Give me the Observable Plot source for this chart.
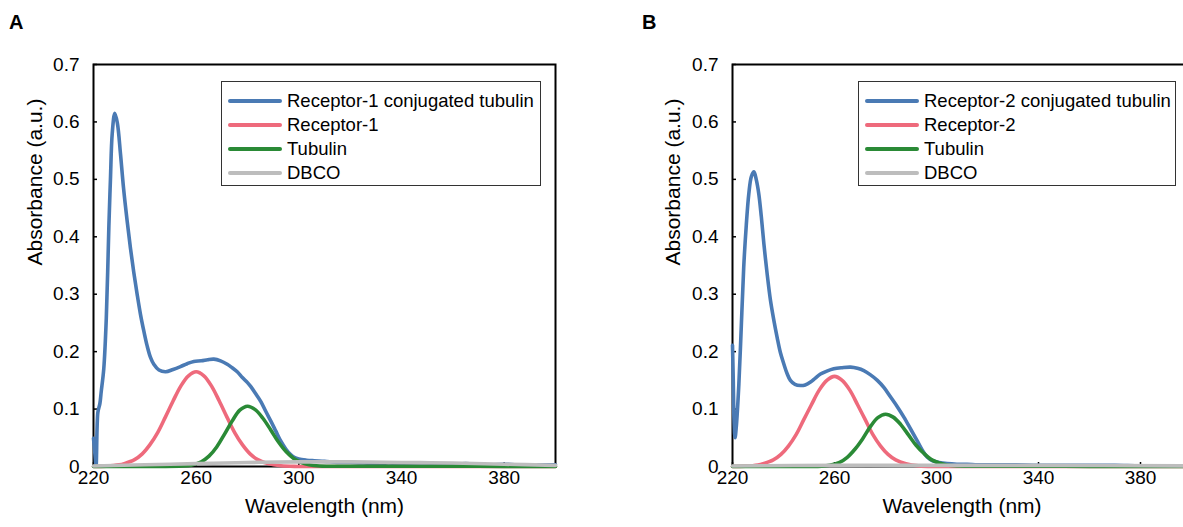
<!DOCTYPE html>
<html>
<head>
<meta charset="utf-8">
<script src="https://cdn.jsdelivr.net/npm/d3@7"></script>
<script src="https://cdn.jsdelivr.net/npm/@observablehq/plot@0.6"></script>
<style>
  html, body { margin: 0; padding: 0; background: #fff; overflow: hidden; }
  #root { position: relative; width: 1183px; height: 527px; overflow: hidden; font-family: "Liberation Sans", Arial, Helvetica, sans-serif; color: #000; }
  .panel { position: absolute; top: 0; }
  .letter { position: absolute; top: 12px; font-weight: bold; font-size: 20px; line-height: 20px; }
  .legend { position: absolute; border: 1.5px solid #333; background: #fff; box-sizing: border-box; }
  .legend .row { position: absolute; left: 0; height: 24px; display: flex; align-items: center; font-size: 18.5px; white-space: nowrap; }
  .legend .sw { display: inline-block; width: 54px; height: 4px; border-radius: 2px; margin-left: 6px; margin-right: 5px; }
</style>
</head>
<body>
<div id="root"></div>
<script>
// ---------- data ----------
const xTicks = [220, 260, 300, 340, 380];
const yTicks = [0, 0.1, 0.2, 0.3, 0.4, 0.5, 0.6, 0.7];
const seriesColors = ["#4a7ab4", "#ee6a7c", "#2a8a36", "#bdbdbd"];
const legendA = ["Receptor-1 conjugated tubulin", "Receptor-1", "Tubulin", "DBCO"];
const legendB = ["Receptor-2 conjugated tubulin", "Receptor-2", "Tubulin", "DBCO"];

// Panel A
const blueA_wl  = [220,220.6,221,221.7,222.5,223,224,225,226,226.6,227.3,228.3,229.3,230.5,231.7,233.1,234.4,235.7,237,238.3,239.6,240.9,242.2,243.5,245.5,248.1,251,253.9,256.5,259.1,262,264.5,266.9,269.5,272.1,274,276,278,280,281.3,283,285.2,287,289.1,291,293,295,296.5,298.2,300,303,306,310,315,320,325,330,335,340,345,350,355,360,365,370,375,380,385,390,395,400];
const blueA_abs = [0.049,0.02,0.002,0.094,0.110,0.13,0.17,0.26,0.42,0.50,0.58,0.615,0.598,0.545,0.485,0.428,0.380,0.338,0.300,0.265,0.236,0.210,0.190,0.178,0.168,0.165,0.169,0.174,0.179,0.183,0.184,0.186,0.187,0.184,0.178,0.172,0.165,0.155,0.146,0.139,0.128,0.113,0.097,0.079,0.062,0.044,0.030,0.022,0.016,0.013,0.011,0.010,0.009,0.007,0.007,0.006,0.005,0.006,0.005,0.005,0.004,0.004,0.004,0.005,0.004,0.003,0.004,0.003,0.003,0.003,0.003];
const pinkA_wl  = [220,225,230,232,236,239,242,245,248,251,254,257,260,263,266,269,272,275,278,281,284,288,293,300,320,400];
const pinkA_abs = [0.0001,0.0006,0.0028,0.005,0.012,0.022,0.038,0.059,0.086,0.114,0.140,0.158,0.165,0.158,0.140,0.114,0.086,0.059,0.038,0.022,0.012,0.005,0.0012,0.0001,0,0];
const greenA_wl  = [220,240,255,258,262,265,268,271,274,277,280,283,286,289,292,295,298,301,304,308,320,340,360,380,400];
const greenA_abs = [0,0,0.0008,0.0024,0.0083,0.018,0.034,0.056,0.079,0.098,0.105,0.099,0.084,0.064,0.043,0.026,0.014,0.007,0.003,0.001,0.0005,0.0005,0.0004,0.0003,0.0002];
const grayA_wl  = [220,240,260,280,300,320,340,360,380,400];
const grayA_abs = [0.001,0.003,0.005,0.007,0.008,0.008,0.007,0.006,0.004,0.002];

// Panel B
const blueB_wl  = [220,220.3,220.6,221,221.5,222.5,223.5,224.4,225.4,226.4,227.4,228.4,229.3,230.3,231.3,232.3,233.6,234.9,236.2,237.5,238.8,240.1,241.4,242.7,244.5,246.7,248.5,250.6,252.5,254.5,257,259.7,263,266.3,269,271.5,274,276.8,279.5,282,284.5,287.2,290,292.4,294.5,296.4,298.5,301,304.2,308,312,316,320,330,340,350,360,370,380,390,400];
const blueB_abs = [0.211,0.15,0.08,0.05,0.07,0.144,0.25,0.347,0.42,0.475,0.505,0.513,0.500,0.475,0.435,0.388,0.335,0.289,0.255,0.225,0.198,0.179,0.162,0.150,0.143,0.141,0.142,0.147,0.154,0.161,0.166,0.170,0.172,0.173,0.171,0.167,0.160,0.150,0.137,0.121,0.105,0.086,0.064,0.045,0.028,0.016,0.010,0.007,0.005,0.004,0.004,0.003,0.003,0.003,0.002,0.002,0.002,0.002,0.001,0.001,0.001];
const pinkB_wl  = [220,225,230,232,236,239,242,245,248,251,254,257,260,263,266,269,272,275,278,281,284,288,293,300,320,400];
const pinkB_abs = [0.0001,0.0006,0.0027,0.0048,0.0114,0.021,0.036,0.056,0.082,0.108,0.133,0.150,0.157,0.150,0.133,0.108,0.082,0.056,0.036,0.021,0.0114,0.0048,0.0011,0.0001,0,0];
const greenB_wl  = [220,240,255,258,262,265,268,271,274,277,280,283,286,289,292,295,298,301,304,308,320,340,360,380,400];
const greenB_abs = [0,0,0.0007,0.0021,0.0072,0.016,0.030,0.048,0.069,0.085,0.091,0.086,0.073,0.055,0.037,0.023,0.012,0.006,0.0025,0.0009,0.0004,0.0004,0.0003,0.0003,0.0002];
const grayB_wl  = [220,260,300,340,400];
const grayB_abs = [0.001,0.002,0.002,0.002,0.001];

// ---------- helpers ----------
const zip = (w, a) => w.map((v, i) => ({wl: v, abs: a[i]}));
const fmtY = d => d === 0 ? "0" : d.toFixed(1);
const FONT = '"Liberation Sans", Arial, Helvetica, sans-serif';

function makePanel(series, opts) {
  const lines = series.map((s, i) =>
    Plot.line(s, {x: "wl", y: "abs", stroke: seriesColors[i], strokeWidth: 3.6, curve: "catmull-rom", strokeLinejoin: "round", strokeLinecap: "round"}));
  return Plot.plot({
    width: opts.width, height: 527,
    marginLeft: opts.ml, marginRight: opts.mr, marginTop: 64, marginBottom: 61,
    style: {fontFamily: FONT, fontSize: "19px", color: "#000", background: "transparent", overflow: "visible"},
    x: {domain: [220, 400], label: null},
    y: {domain: [0, 0.7], label: null},
    marks: [
      // inward tick marks (no text)
      Plot.axisX(xTicks, {anchor: "bottom", tickSize: 4, dy: -4, strokeWidth: 1.5, tickFormat: () => "", label: null}),
      Plot.axisY(yTicks, {anchor: "left", tickSize: 4, dx: 4, strokeWidth: 1.5, tickFormat: () => "", label: null}),
      // tick labels (no tick marks)
      Plot.axisX(xTicks, {anchor: "bottom", tickSize: 0, tickPadding: 4, fontSize: 19, label: null}),
      Plot.axisY(yTicks, {anchor: "left", tickSize: 0, tickPadding: 14, fontSize: 19, tickFormat: fmtY, label: null}),
      Plot.frame({stroke: "#000", strokeWidth: 2}),
      ...lines,
      Plot.text(["Absorbance (a.u.)"], {text: d => d, frameAnchor: "left", rotate: -90, dx: opts.ylabDx, fontSize: 21, fill: "#000"}),
      Plot.text(["Wavelength (nm)"], {text: d => d, frameAnchor: "bottom", dy: 46, fontSize: 21, fill: "#000"})
    ]
  });
}

function makeLegend(labels, box) {
  const el = document.createElement("div");
  el.className = "legend";
  Object.assign(el.style, {left: box.left + "px", top: box.top + "px", width: box.w + "px", height: box.h + "px"});
  labels.forEach((t, i) => {
    const row = document.createElement("div");
    row.className = "row";
    row.style.top = (7 + i * 24) + "px";
    const sw = document.createElement("span");
    sw.className = "sw";
    sw.style.background = seriesColors[i];
    row.appendChild(sw);
    row.appendChild(document.createTextNode(t));
    el.appendChild(row);
  });
  return el;
}

const root = document.getElementById("root");

const pA = makePanel([zip(blueA_wl, blueA_abs), zip(pinkA_wl, pinkA_abs), zip(greenA_wl, greenA_abs), zip(grayA_wl, grayA_abs)],
  {width: 600, ml: 93, mr: 45, ylabDx: -58});
pA.classList.add("panel"); pA.style.left = "0px";
root.appendChild(pA);

const pB = makePanel([zip(blueB_wl, blueB_abs), zip(pinkB_wl, pinkB_abs), zip(greenB_wl, greenB_abs), zip(grayB_wl, grayB_abs)],
  {width: 600, ml: 132, mr: 9, ylabDx: -59});
pB.classList.add("panel"); pB.style.left = "600px";
root.appendChild(pB);

root.appendChild(makeLegend(legendA, {left: 221, top: 81, w: 320, h: 105}));
root.appendChild(makeLegend(legendB, {left: 858, top: 81, w: 318, h: 105}));

const la = document.createElement("div"); la.className = "letter"; la.textContent = "A"; la.style.left = "9px"; root.appendChild(la);
const lb = document.createElement("div"); lb.className = "letter"; lb.textContent = "B"; lb.style.left = "642px"; root.appendChild(lb);
</script>
</body>
</html>
